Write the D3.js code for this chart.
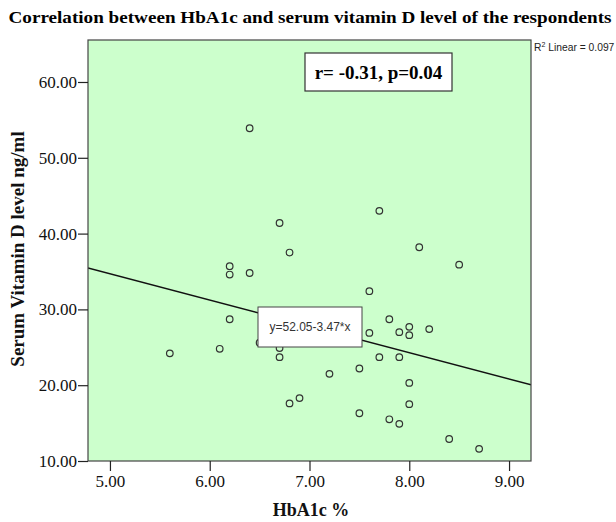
<!DOCTYPE html>
<html>
<head>
<meta charset="utf-8">
<script src="https://cdn.jsdelivr.net/npm/d3@7"></script>
<style>
  html, body { margin: 0; padding: 0; background: #fff; }
  svg { display: block; }
</style>
</head>
<body>
<svg id="chart" width="616" height="522"></svg>
<script>
// ---- data ----
const hba1c = [6.4, 6.7, 7.7, 6.8, 6.2, 6.2, 6.4, 8.1, 8.5, 7.6, 6.2, 7.8, 8.0, 7.9, 8.0, 8.2, 7.6,
               6.1, 5.6, 6.5, 6.7, 6.7, 7.2, 7.5, 7.7, 7.9, 8.0, 8.0, 6.8, 6.9, 7.5, 7.8, 7.9, 8.4, 8.7];
const vitD  = [53.9, 41.4, 43.0, 37.5, 35.7, 34.6, 34.8, 38.2, 35.9, 32.4, 28.7, 28.7, 27.7, 27.0, 26.6, 27.4, 26.9,
               24.8, 24.2, 25.6, 24.9, 23.7, 21.5, 22.2, 23.7, 23.7, 20.3, 17.5, 17.6, 18.3, 16.3, 15.5, 14.9, 12.9, 11.6];
const xTicks = [5, 6, 7, 8, 9];
const yTicks = [10, 20, 30, 40, 50, 60];
const fitIntercept = 52.05;
const fitSlope = -3.47;
const titleText = "Correlation between HbA1c and serum vitamin D level of the respondents";
const xLabel = "HbA1c %";
const yLabel = "Serum Vitamin D level ng/ml";
const statText = "r= -0.31, p=0.04";
const eqText = "y=52.05-3.47*x";

// ---- layout ----
const L = 88, R = 531, T = 40, B = 461;
const serif = "'Liberation Serif', 'Times New Roman', serif";
const sans = "'Liberation Sans', Arial, sans-serif";

const svg = d3.select("#chart");
const x = d3.scaleLinear().domain([4.78, 9.22]).range([L, R]);
const y = d3.scaleLinear().domain([10, 65.54]).range([B, T]);

// plot background
svg.append("rect").attr("x", L).attr("y", T).attr("width", R - L).attr("height", B - T)
  .attr("fill", "#ccffcc").attr("stroke", "none");

// regression line (clipped to plot)
svg.append("clipPath").attr("id", "clip").append("rect")
  .attr("x", L).attr("y", T).attr("width", R - L).attr("height", B - T);
const xd = x.domain();
svg.append("line")
  .attr("clip-path", "url(#clip)")
  .attr("x1", x(xd[0])).attr("y1", y(fitIntercept + fitSlope * xd[0]))
  .attr("x2", x(xd[1])).attr("y2", y(fitIntercept + fitSlope * xd[1]))
  .attr("stroke", "#111").attr("stroke-width", 1.3);

// points
svg.append("g").selectAll("circle").data(hba1c).join("circle")
  .attr("cx", (d) => x(d))
  .attr("cy", (d, i) => y(vitD[i]))
  .attr("r", 3.3)
  .attr("fill", "none")
  .attr("stroke", "#333")
  .attr("stroke-width", 1.2);

// plot border
svg.append("rect").attr("x", L).attr("y", T).attr("width", R - L).attr("height", B - T)
  .attr("fill", "none").attr("stroke", "#444").attr("stroke-width", 1.2);

// axes
const xAxis = d3.axisBottom(x).tickValues(xTicks).tickFormat(d3.format(".2f")).tickSize(10).tickSizeOuter(0);
const gx = svg.append("g").attr("transform", `translate(0,${B})`).call(xAxis);
gx.select(".domain").remove();
gx.selectAll(".tick line").attr("stroke", "#222").attr("stroke-width", 1.2);
gx.selectAll(".tick text").attr("font-family", serif).attr("font-size", 17).attr("fill", "#111").attr("dy", "0.8em").attr("y", 12);

const yAxis = d3.axisLeft(y).tickValues(yTicks).tickFormat(d3.format(".2f")).tickSize(10).tickSizeOuter(0);
const gy = svg.append("g").attr("transform", `translate(${L},0)`).call(yAxis);
gy.select(".domain").remove();
gy.selectAll(".tick line").attr("stroke", "#222").attr("stroke-width", 1.2);
gy.selectAll(".tick text").attr("font-family", serif).attr("font-size", 17).attr("fill", "#111").attr("x", -11);

// title
svg.append("text").attr("x", 310).attr("y", 23).attr("text-anchor", "middle")
  .attr("font-family", serif).attr("font-weight", "bold").attr("font-size", 16)
  .attr("textLength", 603).attr("lengthAdjust", "spacingAndGlyphs")
  .attr("fill", "#000").text(titleText);

// axis titles
svg.append("text").attr("x", 311).attr("y", 516).attr("text-anchor", "middle")
  .attr("font-family", serif).attr("font-weight", "bold").attr("font-size", 18)
  .attr("fill", "#111").text(xLabel);
svg.append("text").attr("transform", "translate(24,249) rotate(-90)").attr("text-anchor", "middle")
  .attr("font-family", serif).attr("font-weight", "bold").attr("font-size", 19)
  .attr("fill", "#111").text(yLabel);

// stat box
svg.append("rect").attr("x", 305).attr("y", 53).attr("width", 147).attr("height", 38)
  .attr("fill", "#fff").attr("stroke", "#333").attr("stroke-width", 1.2);
svg.append("text").attr("x", 378.5).attr("y", 79).attr("text-anchor", "middle")
  .attr("font-family", serif).attr("font-weight", "bold").attr("font-size", 19)
  .attr("fill", "#000").text(statText);

// equation box
svg.append("rect").attr("x", 258).attr("y", 307).attr("width", 104).attr("height", 40)
  .attr("fill", "#fff").attr("stroke", "#444").attr("stroke-width", 1);
svg.append("text").attr("x", 310).attr("y", 331).attr("text-anchor", "middle")
  .attr("font-family", sans).attr("font-size", 12)
  .attr("fill", "#333").text(eqText);

// R2 label
const r2 = svg.append("text").attr("x", 534).attr("y", 51)
  .attr("font-family", sans).attr("font-size", 10.3).attr("fill", "#222");
r2.append("tspan").text("R");
r2.append("tspan").attr("dy", -4).attr("font-size", 7).text("2");
r2.append("tspan").attr("dy", 4).text(" Linear = 0.097");
</script>
</body>
</html>
